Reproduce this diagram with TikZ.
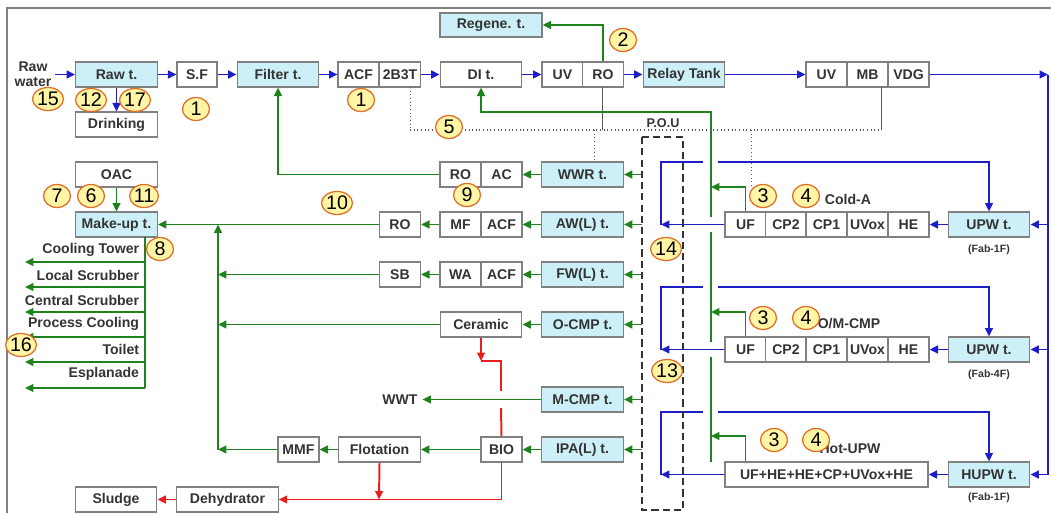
\documentclass[tikz,border=0pt]{standalone}
\usepackage{fontspec}
\setmainfont{Liberation Sans}
\usetikzlibrary{arrows.meta,shapes.geometric}
\definecolor{pipeblue}{RGB}{30,30,200}
\definecolor{pipegreen}{RGB}{30,130,30}
\definecolor{pipered}{RGB}{235,30,30}
\definecolor{tankfill}{RGB}{205,240,248}
\definecolor{tagfill}{RGB}{255,245,165}
\definecolor{tagedge}{RGB}{225,110,40}
\begin{document}
\begin{tikzpicture}[x=0.025cm, y=-0.025cm, >={Triangle[length=6pt,width=5.5pt]},
  every node/.style={font=\bfseries\fontsize{10}{11}\selectfont, text=black!80},
  unitbox/.style={draw=gray, line width=0.8pt, fill=white, minimum width=1.025cm, minimum height=0.625cm, inner sep=0pt},
  widebox/.style={unitbox, minimum width=2.04cm},
  tankbox/.style={widebox, fill=tankfill},
  bline/.style={pipeblue, line width=1.4pt},
  gline/.style={pipegreen, line width=1.4pt},
  rline/.style={pipered, line width=1.4pt},
  annline/.style={gray!70!black, line width=0.6pt},
  numtag/.style={ellipse, draw=tagedge, fill=tagfill, line width=0.9pt, minimum width=0.675cm, minimum height=0.575cm, inner sep=0pt, font=\fontsize{14}{14}\selectfont, text=black},
  fablabel/.style={font=\bfseries\fontsize{7.5}{9}\selectfont}]
  % 1. frame
  \useasboundingbox (0,0) rectangle (1051,513);
  \draw[gray, line width=1.5pt] (7,513) -- (7,8) -- (1051,8);

  % 2. main make-up line
  \node[align=center] (rawwater) at (33,74) {Raw\\water};
  \node[tankbox] (raw) at (116.5,74.5) {Raw t.};
  \node[unitbox, minimum width=1.0cm] (sf) at (197,74.5) {S.F};
  \node[tankbox] (filter) at (278,74.5) {Filter t.};
  \node[unitbox] (acfa) at (358.5,74.5) {ACF};
  \node[unitbox] (bbt) at (400,74.5) {2B3T};
  \node[widebox] (di) at (481,74.5) {DI t.};
  \node[unitbox] (uva) at (562.5,74.5) {UV};
  \node[unitbox] (roa) at (603,74.5) {RO};
  \node[tankbox] (relay) at (684,74.5) {Relay Tank};
  \node[unitbox] (uvb) at (826.5,74.5) {UV};
  \node[unitbox] (mb) at (867.5,74.5) {MB};
  \node[unitbox] (vdg) at (908.5,74.5) {VDG};
  \node[tankbox, minimum width=2.55cm, minimum height=0.6cm] (regene) at (491,25) {Regene. t.};
  \node[widebox] (drinking) at (116.5,124.5) {Drinking};

  % 3. reclaim / waste side
  \node[widebox] (oac) at (116.5,174.5) {OAC};
  \node[unitbox] (rob) at (460.5,174.5) {RO};
  \node[unitbox] (ac) at (501.5,174.5) {AC};
  \node[tankbox] (wwr) at (582.5,174.5) {WWR t.};
  \node[tankbox] (makeup) at (116.5,224.5) {Make-up t.};
  \node[unitbox] (roc) at (400,224.5) {RO};
  \node[unitbox] (mf) at (460.5,224.5) {MF};
  \node[unitbox] (acfb) at (501.5,224.5) {ACF};
  \node[tankbox] (aw) at (582.5,224.5) {AW(L) t.};
  \node[unitbox] (sb) at (400,274.5) {SB};
  \node[unitbox] (wa) at (460.5,274.5) {WA};
  \node[unitbox] (acfc) at (501.5,274.5) {ACF};
  \node[tankbox] (fw) at (582.5,274.5) {FW(L) t.};
  \node[widebox] (ceramic) at (481,324.5) {Ceramic};
  \node[tankbox] (ocmp) at (582.5,324.5) {O-CMP t.};
  \node (wwt) at (400,399.5) {WWT};
  \node[tankbox] (mcmp) at (582.5,399.5) {M-CMP t.};
  \node[unitbox] (mmf) at (298.5,449.5) {MMF};
  \node[widebox] (flotation) at (379.5,449.5) {Flotation};
  \node[unitbox] (bio) at (501.5,449.5) {BIO};
  \node[tankbox] (ipa) at (582.5,449.5) {IPA(L) t.};
  \node[widebox] (sludge) at (116,499.5) {Sludge};
  \node[widebox, minimum width=2.53cm] (dehydrator) at (227.5,499.5) {Dehydrator};

  % 4. UPW loops
  \node[unitbox] (ufa) at (745.5,224.5) {UF};
  \node[unitbox] (cptwoa) at (786,224.5) {CP2};
  \node[unitbox] (cponea) at (826.5,224.5) {CP1};
  \node[unitbox] (uvoxa) at (867.5,224.5) {UVox};
  \node[unitbox] (hea) at (908.5,224.5) {HE};
  \node[tankbox] (upwa) at (989,224.5) {UPW t.};
  \node[fablabel] (faba) at (989,250) {(Fab-1F)};
  \node (colda) at (848,199) {Cold-A};
  \node[unitbox] (ufb) at (745.5,349.5) {UF};
  \node[unitbox] (cptwob) at (786,349.5) {CP2};
  \node[unitbox] (cponeb) at (826.5,349.5) {CP1};
  \node[unitbox] (uvoxb) at (867.5,349.5) {UVox};
  \node[unitbox] (heb) at (908.5,349.5) {HE};
  \node[tankbox] (upwb) at (989,349.5) {UPW t.};
  \node[fablabel] (fabb) at (989,375) {(Fab-4F)};
  \node (omcmp) at (849,324) {O/M-CMP};
  \node[unitbox, minimum width=5.075cm] (hotchain) at (826.5,474.5) {UF+HE+HE+CP+UVox+HE};
  \node[tankbox] (hupw) at (989,474.5) {HUPW t.};
  \node[fablabel] (fabc) at (989,498) {(Fab-1F)};
  \node (hotupw) at (850,449) {Hot-UPW};

  % 5. blue supply lines
  \coordinate (rawin) at (55,74.5);
  \draw[bline,->] (rawin) -- (raw);
  \draw[bline,->] (raw) -- (drinking);
  \draw[bline,->] (raw) -- (sf);
  \draw[bline,->] (sf) -- (filter);
  \draw[bline,->] (filter) -- (acfa);
  \draw[bline,->] (bbt) -- (di);
  \draw[bline,->] (di) -- (uva);
  \draw[bline,->] (roa) -- (relay);
  \draw[bline,->] (relay) -- (uvb);
  \draw[bline,->] (vdg) -- (1048,74.5);
  \draw[bline] (1048,74.5) -- (1048,474.5);
  \draw[bline,->] (1048,224.5) -- (upwa);
  \draw[bline,->] (1048,349.5) -- (upwb);
  \draw[bline,->] (1048,474.5) -- (hupw);
  \draw[bline,->] (upwa) -- (hea);
  \draw[bline,->] (upwb) -- (heb);
  \draw[bline,->] (hupw) -- (hotchain);
  \foreach \src/\dst/\yy/\yt in {ufa/upwa/224.5/162, ufb/upwb/349.5/287, hotchain/hupw/474.5/412}{
    \draw[bline,->] (\src.west) -- (661,\yy);
    \draw[bline] (661,\yy) -- (661,\yt) -- (703,\yt);
    \draw[bline,->] (718,\yt) -| (\dst.north);
  }

  % 6. green return / reclaim lines
  \draw[gline,->] (roa.north) |- (regene.east);
  \draw[gline] (711,462) -- (711,357);
  \draw[gline] (711,342) -- (711,232);
  \draw[gline,->] (711,217) -- (711,112) -| (di.south);
  \draw[gline,->] (ufa.north) |- (711,187);
  \draw[gline,->] (ufb.north) |- (711,312);
  \draw[gline,->] (ufa.north |- hotchain.north) |- (711,436);
  \foreach \tank in {wwr,aw,fw,ocmp,mcmp,ipa}
    \draw[gline,->] (642,0 |- \tank.east) -- (\tank.east);
  \draw[gline,->] (wwr) -- (ac);
  \draw[gline,->] (rob.west) -| (filter.south);
  \draw[gline,->] (aw) -- (acfb);
  \draw[gline,->] (mf) -- (roc);
  \draw[gline,->] (roc) -- (makeup);
  \draw[gline,->] (fw) -- (acfc);
  \draw[gline,->] (wa) -- (sb);
  \draw[gline,->] (sb.west) -- (218,274.5);
  \draw[gline,->] (ocmp) -- (ceramic);
  \draw[gline,->] (ceramic.west) -- (218,324.5);
  \draw[gline,->] (mcmp) -- (wwt);
  \draw[gline,->] (ipa) -- (bio);
  \draw[gline,->] (bio) -- (flotation);
  \draw[gline,->] (flotation) -- (mmf);
  \draw[gline,->] (mmf.west) -- (218,449.5);
  \draw[gline,->] (218,449.5) -- (218,224.5);
  \draw[gline,->] (oac) -- (makeup);
  \draw[gline] (145,237) -- (145,388);
  \foreach \lab/\yy/\yl in {Cooling Tower/262/250, Local Scrubber/287/275, Central Scrubber/312/300,
                            Process Cooling/337/324, Toilet/362/349, Esplanade/388/374}{
    \draw[gline,->] (145,\yy) -- (25,\yy);
    \node[anchor=east] (use\yy) at (144,\yl) {\lab};
  }

  % 7. red sludge lines
  \draw[rline,->] (ceramic.south) -- (481,361);
  \draw[rline] (481,361) -- (501,361) -- (501,391);
  \draw[rline] (501,408) -- (bio.north);
  \draw[rline,->] (bio.south) |- (dehydrator.east);
  \draw[rline,->] (flotation.south) -- (379,499.5);
  \draw[rline,->] (dehydrator) -- (sludge);

  % 8. POU box and check lines
  \draw[black!80, line width=1.3pt, dash pattern=on 5pt off 3pt] (642,137) rectangle (683,510);
  \node[font=\bfseries\fontsize{9}{10}\selectfont] (pou) at (663,123) {P.O.U};
  \draw[annline, dotted, line width=1.3pt] (410,130) -- (881,130);
  \draw[annline, dotted] (410,87) -- (410,130);
  \draw[annline] (602,87) -- (602,130);
  \draw[annline] (881,87) -- (881,130);
  \draw[annline, dotted] (594,130) -- (594,162);
  \draw[annline, dotted] (751,130) -- (751,187);

  % 9. numbered tags
  \foreach \num/\xx/\yy in {15/48/99, 12/91/100, 17/135/100, 1/196/109, 1/361/100, 2/623/40, 5/449/127,
                           7/57/196, 6/91/196, 11/144/196, 8/160/249, 9/467/195, 10/337/203, 16/21/345,
                           14/666/249, 13/667/371, 3/763/196, 4/806/196, 3/763/318, 4/806/318, 3/774/440, 4/816/440}
    \node[numtag] (tag\num-\xx) at (\xx,\yy) {\num};
\end{tikzpicture}
\end{document}
